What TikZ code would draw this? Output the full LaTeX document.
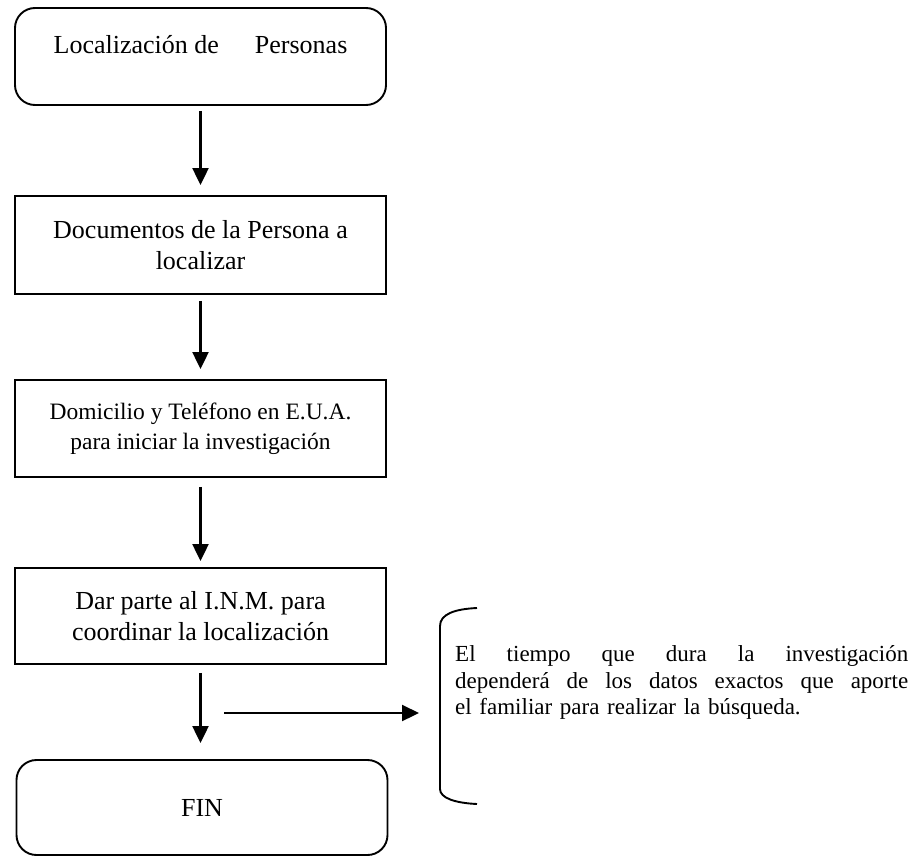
\documentclass[tikz,border=0pt]{standalone}
\usepackage{fontspec}
\setmainfont{Liberation Serif}
\usetikzlibrary{arrows.meta}
\newcommand{\fullline}[1]{\makebox[453pt][l]{#1}}
\begin{document}
\begin{tikzpicture}[x=1pt,y=-1pt,
  box/.style={draw, line width=1.9pt, minimum width=371pt, inner sep=0pt,
    align=center, font=\fontsize{26}{31}\selectfont},
  rbox/.style={box, rounded corners=20pt},
  flow/.style={-{Triangle[width=16pt,length=17pt]}, line width=2.2pt},
  brace/.style={line width=1.9pt},
  note/.style={anchor=north west, inner sep=0pt, text width=453pt, align=left,
    font=\fontsize{23}{26.5}\selectfont}
]
\useasboundingbox (0,0) rectangle (920,857);

% flow boxes
\node[rbox, minimum height=97pt, text height=19pt, text depth=25pt] (b1) at (200.5,56.5)
  {Localización de\hspace*{36pt}Personas};
\node[box, minimum height=98pt] (b2) at (200.5,245)
  {Documentos de la Persona a\\localizar};
\node[box, minimum height=97pt, font=\fontsize{23.5}{30}\selectfont] (b3) at (200.5,428.5)
  {Domicilio y Teléfono en E.U.A.\\para iniciar la investigación};
\node[box, minimum height=96pt] (b4) at (200.5,616)
  {Dar parte al I.N.M. para\\coordinar la localización};
\node[rbox, minimum height=95pt] (b5) at (202,807.5) {FIN};

% vertical connectors
\draw[flow, shorten <=5pt, shorten >=10pt] (b1.south) -- (b2.north);
\draw[flow, shorten <=6pt, shorten >=10pt] (b2.south) -- (b3.north);
\draw[flow, shorten <=9pt, shorten >=6pt] (b3.south) -- (b4.north);
\draw[flow, shorten <=8pt, shorten >=16pt] (b4.south) -- (b4.south |- b5.north);

% side note with its bracket
\coordinate (hs) at (224,713);
\coordinate (he) at (419,713);
\draw[flow] (hs) -- (he);
\draw[brace] (477,608) .. controls (455,609) and (440,614) .. (440,626)
  -- (440,789) .. controls (440,798) and (455,803) .. (477,804);
\node[note] (txt) at (455,645.5)
  {\fullline{El\hfill tiempo\hfill que\hfill dura\hfill la\hfill investigación}\\
   \fullline{dependerá\hfill de\hfill los\hfill datos\hfill exactos\hfill que\hfill aporte}\\
   el familiar para realizar la búsqueda.};
\end{tikzpicture}
\end{document}
